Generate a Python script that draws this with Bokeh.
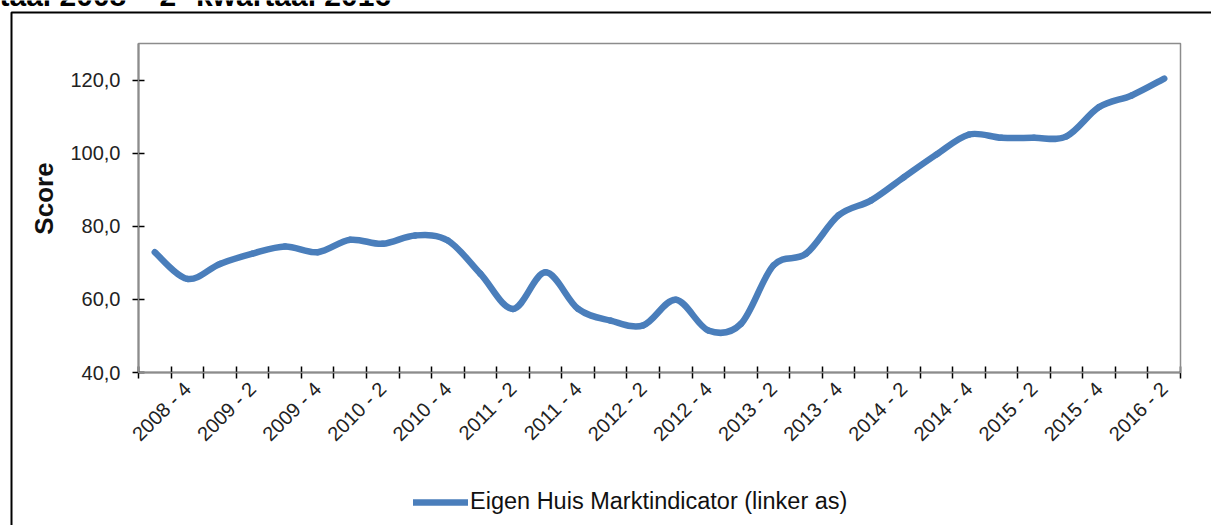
import math
from bokeh.plotting import figure
from bokeh.models import (Range1d, FixedTicker, Label, Legend, LegendItem,
                          BoxAnnotation, ColumnDataSource)
from bokeh.embed import file_html
from bokeh.resources import INLINE

# ---- data -------------------------------------------------------------
quarters = [
    "2008 - 3", "2008 - 4",
    "2009 - 1", "2009 - 2", "2009 - 3", "2009 - 4",
    "2010 - 1", "2010 - 2", "2010 - 3", "2010 - 4",
    "2011 - 1", "2011 - 2", "2011 - 3", "2011 - 4",
    "2012 - 1", "2012 - 2", "2012 - 3", "2012 - 4",
    "2013 - 1", "2013 - 2", "2013 - 3", "2013 - 4",
    "2014 - 1", "2014 - 2", "2014 - 3", "2014 - 4",
    "2015 - 1", "2015 - 2", "2015 - 3", "2015 - 4",
    "2016 - 1", "2016 - 2",
]
indicator = [
    72.9, 65.6, 69.7, 72.5, 74.5, 72.9, 76.3, 75.2,
    77.5, 76.1, 67.0, 57.4, 67.4, 57.4, 54.2, 52.9,
    59.9, 51.5, 53.3, 69.3, 72.5, 83.0, 87.1, 93.4,
    99.6, 105.1, 104.2, 104.2, 104.6, 112.6, 115.8, 120.4,
]
y_min, y_max = 40, 130
y_ticks = [40, 60, 80, 100, 120]
y_tick_labels = ["40,0", "60,0", "80,0", "100,0", "120,0"]
series_name = "Eigen Huis Marktindicator (linker as)"
title_text = "taal 2008 \u2013 2\u1d49 kwartaal 2016"
y_title = "Score"

FONT = "Liberation Sans"
LINE_COLOR = "#4A7EBB"

# ---- layout (pixels) --------------------------------------------------
W, H = 1211, 525
PL, PR, PT, PB = 138, 1180, 43, 372      # plot area edges
BOX_L, BOX_T = 11, 12                    # outer chart box

n = len(quarters)
xs = [i + 0.5 for i in range(n)]

xpp = n / (PR - PL)
ypp = (y_max - y_min) / (PB - PT)
x_start, x_end = -PL * xpp, n + (W - PR) * xpp
y_end, y_start = y_max + PT * ypp, y_min - (H - PB) * ypp

# smooth (Catmull-Rom) bezier segments through the data points
seg = dict(x0=[], y0=[], x1=[], y1=[], cx0=[], cy0=[], cx1=[], cy1=[])
for i in range(n - 1):
    xm, ym = (xs[i - 1], indicator[i - 1]) if i > 0 else (xs[i], indicator[i])
    x0, y0 = xs[i], indicator[i]
    x1, y1 = xs[i + 1], indicator[i + 1]
    x2, y2 = (xs[i + 2], indicator[i + 2]) if i + 2 < n else (x1, y1)
    seg["x0"].append(x0); seg["y0"].append(y0)
    seg["x1"].append(x1); seg["y1"].append(y1)
    seg["cx0"].append(x0 + (x1 - xm) / 6.0); seg["cy0"].append(y0 + (y1 - ym) / 6.0)
    seg["cx1"].append(x1 - (x2 - x0) / 6.0); seg["cy1"].append(y1 - (y2 - y0) / 6.0)
src = ColumnDataSource(seg)

fig = figure(width=W, height=H, output_backend="svg", toolbar_location=None,
             x_range=Range1d(x_start, x_end), y_range=Range1d(y_start, y_end),
             min_border=0)
fig.background_fill_color = "white"
fig.border_fill_color = "white"
fig.outline_line_color = None
fig.xgrid.visible = False
fig.ygrid.visible = False

# outer chart box (only left and top edges fall inside the picture)
fig.add_layout(BoxAnnotation(left=BOX_L * xpp + x_start, right=x_end + 5,
                             top=y_end - BOX_T * ypp, bottom=y_start - 5,
                             fill_color=None, fill_alpha=0,
                             line_color="black", line_alpha=1, line_width=2))
# plot-area border (grey top / right)
fig.add_layout(BoxAnnotation(left=0, right=n, bottom=y_min, top=y_max,
                             fill_color=None, fill_alpha=0,
                             line_color="#8c8c8c", line_alpha=1,
                             line_width=1.5))

r = fig.bezier(x0="x0", y0="y0", x1="x1", y1="y1",
               cx0="cx0", cy0="cy0", cx1="cx1", cy1="cy1",
               source=src, line_color=LINE_COLOR, line_width=6.5,
               line_cap="round")

# x axis: tick marks between categories, labels on every second category
xa = fig.xaxis[0]
xa.fixed_location = y_min
xa.bounds = (0, n)
label_pos = [xs[i] for i in range(1, n, 2)]
xa.ticker = FixedTicker(ticks=label_pos, minor_ticks=list(range(0, n + 1)))
xa.major_label_overrides = {xs[i]: quarters[i] for i in range(1, n, 2)}
xa.major_tick_line_color = None
xa.minor_tick_line_color = "black"
xa.minor_tick_line_width = 1.5
xa.minor_tick_in = 6
xa.minor_tick_out = 6
xa.major_label_orientation = math.pi / 4
xa.major_label_standoff = 7
xa.major_label_text_font = FONT
xa.major_label_text_font_size = "20px"
xa.major_label_text_color = "#222222"
xa.axis_line_color = "black"
xa.axis_line_width = 1.5

# y axis
ya = fig.yaxis[0]
ya.fixed_location = 0
ya.bounds = (y_min, y_max)
ya.ticker = FixedTicker(ticks=y_ticks)
ya.major_label_overrides = dict(zip(y_ticks, y_tick_labels))
ya.minor_tick_line_color = None
ya.major_tick_line_color = "black"
ya.major_tick_line_width = 1.5
ya.major_tick_in = 6
ya.major_tick_out = 6
ya.major_label_standoff = 12
ya.major_label_text_font = FONT
ya.major_label_text_font_size = "20px"
ya.major_label_text_color = "#222222"
ya.axis_line_color = "black"
ya.axis_line_width = 1.5

# y-axis title
fig.add_layout(Label(x=43, y=H - 198, x_units="screen", y_units="screen",
                     text=y_title, angle=math.pi / 2, text_font=FONT,
                     text_font_style="bold", text_font_size="26px",
                     text_color="#111111", text_align="center",
                     text_baseline="middle"))

# cut-off chart title at the very top
fig.add_layout(Label(x=-1, y=H + 5, x_units="screen", y_units="screen",
                     text=title_text, text_font=FONT, text_font_style="bold",
                     text_font_size="30px", text_color="black",
                     text_baseline="alphabetic"))

legend = Legend(items=[LegendItem(label=series_name, renderers=[r])],
                location=(413, 10), orientation="horizontal",
                glyph_width=55, glyph_height=22, label_standoff=2,
                padding=0, margin=0, border_line_color=None,
                background_fill_alpha=0,
                label_text_font=FONT, label_text_font_size="23.5px",
                label_text_color="#111111")
fig.add_layout(legend)

p = fig
open("out.html", "w").write(file_html(p, INLINE))
